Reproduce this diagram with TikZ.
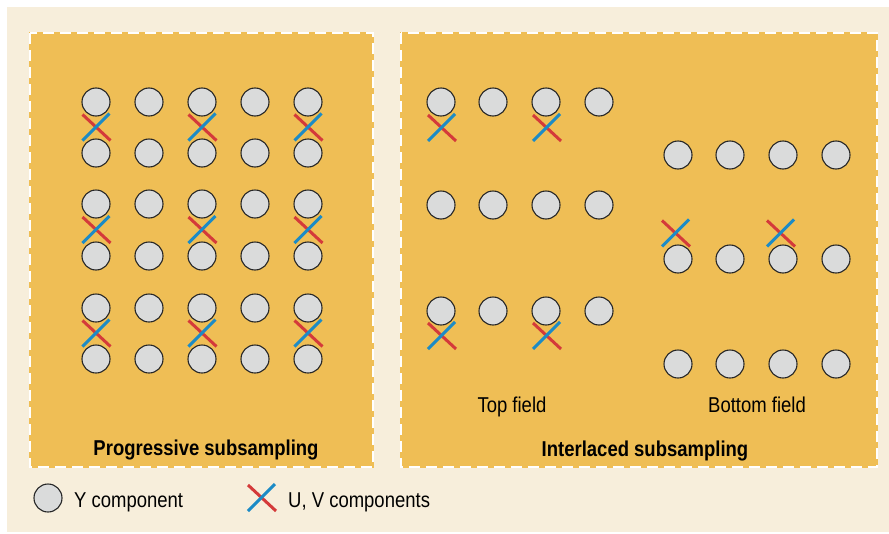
\documentclass[tikz,border=0pt]{standalone}
\usepackage{fontspec}
\setmainfont{Liberation Sans}[FakeStretch=0.86]

\definecolor{bgbeige}{HTML}{F7EEDB}
\definecolor{panelfill}{HTML}{EFBE55}
\definecolor{ygray}{HTML}{DADBDB}
\definecolor{uvred}{HTML}{D43A3A}
\definecolor{uvblue}{HTML}{1C8BC6}

\tikzset{
  ydot/.style={circle, draw=black!85, fill=ygray, line width=1.1pt,
    minimum size=28pt, inner sep=0pt},
  panelbox/.style={fill=panelfill},
  paneledge/.style={draw=white, line width=2.2pt,
    dash pattern=on 11pt off 6pt},
  lbl/.style={font=\fontsize{21.5}{24}\selectfont, inner sep=0pt},
  title/.style={lbl, font=\fontsize{21.5}{24}\selectfont\bfseries},
  pics/uvmark/.style={code={
    \draw[uvred, line width=3pt] (-14,-13) -- (14,13);
    \draw[uvblue, line width=3pt] (-14,13) -- (13,-14);
  }}
}

\begin{document}
\begin{tikzpicture}[x=1pt, y=-1pt]
\useasboundingbox (0,0) rectangle (889,533);
\fill[white] (0,0) rectangle (889,533);
\fill[bgbeige] (7,7) rectangle (889,532);

% panels: filled area, then a white dashed rim
\path[panelbox] (29,32) rectangle (374,468);
\path[panelbox] (400,32) rectangle (878,468);
\path[paneledge] (30,33) rectangle (373,467);
\path[paneledge] (401,33) rectangle (877,467);

% progressive: Y samples
\foreach \r/\y in {1/102,2/153,3/204,4/256,5/308,6/359}
  \foreach \c/\x in {1/96,2/149,3/202,4/255,5/308}
    \node[ydot] (p-\r-\c) at (\x,\y) {};
% progressive: chroma samples
\foreach \y in {127.5,230,333.5}
  \foreach \x in {96.5,202.5,308.5}
    \pic at (\x,\y) {uvmark};

% interlaced, top field
\foreach \r/\y in {1/102,2/205,3/311}
  \foreach \c/\x in {1/441,2/493,3/546,4/599}
    \node[ydot] (t-\r-\c) at (\x,\y) {};
\foreach \y in {128,336}
  \foreach \x in {442,547}
    \pic at (\x,\y) {uvmark};

% interlaced, bottom field
\foreach \r/\y in {1/155,2/259,3/364}
  \foreach \c/\x in {1/678,2/730,3/783,4/836}
    \node[ydot] (b-\r-\c) at (\x,\y) {};
\foreach \x in {676,781}
  \pic at (\x,233.5) {uvmark};

% captions
\node[lbl, anchor=base] (topcap) at (512,412) {Top field};
\node[lbl, anchor=base] (botcap) at (757,412) {Bottom field};
\node[title, anchor=base] (progcap) at (206,455) {Progressive subsampling};
\node[title, anchor=base] (intcap) at (645,456) {Interlaced subsampling};

% legend
\node[ydot] (legy) at (48,498) {};
\node[lbl, anchor=base west] (legytxt) at (74,507) {Y component};
\pic at (262,498) {uvmark};
\node[lbl, anchor=base west] (leguvtxt) at (288,507) {U, V components};
\end{tikzpicture}
\end{document}
